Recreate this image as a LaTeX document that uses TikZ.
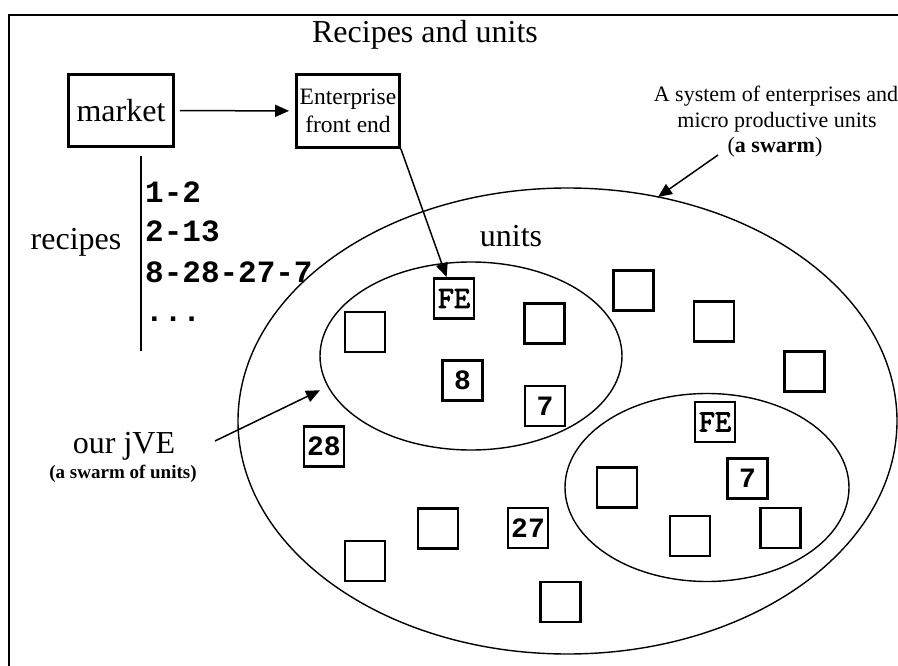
\documentclass[tikz,border=0pt]{standalone}
\usepackage{fontspec}
\setmainfont{Liberation Serif}
\newfontfamily\recmono{Liberation Mono}
\newfontfamily\femono[FakeBold=3]{Latin Modern Mono}
\usetikzlibrary{shapes.geometric,arrows.meta}
\begin{document}
\begin{tikzpicture}[x=1pt,y=-1pt,
  bigtext/.style={inner sep=0pt, font=\fontsize{32}{38}\selectfont},
  boxframe/.style={draw, line width=2.8pt, inner sep=0pt},
  unitbox/.style={draw, line width=2.8pt, minimum width=40pt, minimum height=40pt, inner sep=0pt,
     font=\recmono\bfseries\fontsize{28}{28}\selectfont},
  febox/.style={unitbox, font=\femono\fontsize{31}{31}\selectfont},
  reclist/.style={anchor=base west, inner sep=0pt, font=\recmono\bfseries\fontsize{31}{31}\selectfont},
  arr/.style={line width=1.5pt, -{Triangle[length=14pt,width=12pt]}},
  oval/.style={draw, ellipse, line width=1.4pt, inner sep=0pt, outer sep=0pt}
]
\useasboundingbox (0,0) rectangle (898,666);
% frame
\draw[line width=2.8pt] (9,666) -- (9,15) -- (898,15);
% title
\node[bigtext, anchor=base] (title) at (425,43) {Recipes and units};
% market and front end
\node[boxframe, minimum width=105pt, minimum height=72pt, font=\fontsize{32}{38}\selectfont] (market) at (121,110.5) {market};
\node[boxframe, minimum width=103pt, minimum height=73pt, align=center, font=\fontsize{23.5}{28.5}\selectfont] (fe) at (348,111) {Enterprise\\front end};
\draw[arr, shorten <=5pt, shorten >=6pt] (market) -- (fe);
% recipes
\draw[line width=2.8pt] (141,156) coordinate (vtop) -- (141,351) coordinate (vbot);
\node[bigtext, anchor=base] (recipes) at (76,250) {recipes};
\node[reclist] (r1) at (145,203) {1-2};
\node[reclist] (r2) at (145,242) {2-13};
\node[reclist] (r3) at (145,282) {8-28-27-7};
\node[reclist] (r4) at (145,321) {...};
% ellipses
\node[oval, minimum width=659pt, minimum height=466pt] (big) at (567.5,421) {};
\node[oval, minimum width=302pt, minimum height=188pt] (e1) at (471,356) {};
\node[oval, minimum width=284pt, minimum height=188pt] (e2) at (707,487.5) {};
\node[bigtext, anchor=base] (units) at (511,247) {units};
% swarm text
\node[inner sep=0pt, anchor=base, font=\fontsize{22}{26}\selectfont] (s1) at (776,102) {A system of enterprises and};
\node[inner sep=0pt, anchor=base, font=\fontsize{22}{26}\selectfont] (s2) at (777,128) {micro productive units};
\node[inner sep=0pt, anchor=base, font=\fontsize{22}{26}\selectfont] (s3) at (775,153) {(\textbf{a swarm})};
\coordinate (swarmtail) at (718,155);
\draw[arr] (swarmtail) -- (big.68);
% jVE text
\node[bigtext, anchor=base] (jve) at (124,453) {our jVE};
\node[inner sep=0pt, anchor=base, font=\bfseries\fontsize{19}{22}\selectfont] (jve2) at (123,478) {(a swarm of units)};
\coordinate (jvetail) at (215,441);
\draw[arr, shorten >=9pt] (jvetail) -- (e1.192);
% unit boxes
\node[febox] (fe1) at (454,298.5) {FE};
\node[unitbox] (u1) at (365,332) {};
\node[unitbox] (u2) at (544.5,323.5) {};
\node[unitbox] (n8) at (462.5,380.5) {8};
\node[unitbox] (n7a) at (545,406) {7};
\node[unitbox] (u3) at (633.5,290.5) {};
\node[unitbox] (u4) at (714,321.5) {};
\node[unitbox] (u5) at (804.5,371.5) {};
\node[febox] (fe2) at (715,422) {FE};
\node[unitbox] (n7b) at (747.5,478.5) {7};
\node[unitbox] (u6) at (617,487.5) {};
\node[unitbox] (u7) at (690,536) {};
\node[unitbox] (u8) at (780.5,528) {};
\node[unitbox] (n27) at (528,528) {27};
\node[unitbox] (u9) at (560.5,602) {};
\node[unitbox] (n28) at (324,446.5) {28};
\node[unitbox] (u10) at (365,561) {};
\node[unitbox] (u11) at (438,528.5) {};
% front end arrow
\draw[arr] (fe.south east) -- ([xshift=14pt]fe1.north west);
\end{tikzpicture}
\end{document}
